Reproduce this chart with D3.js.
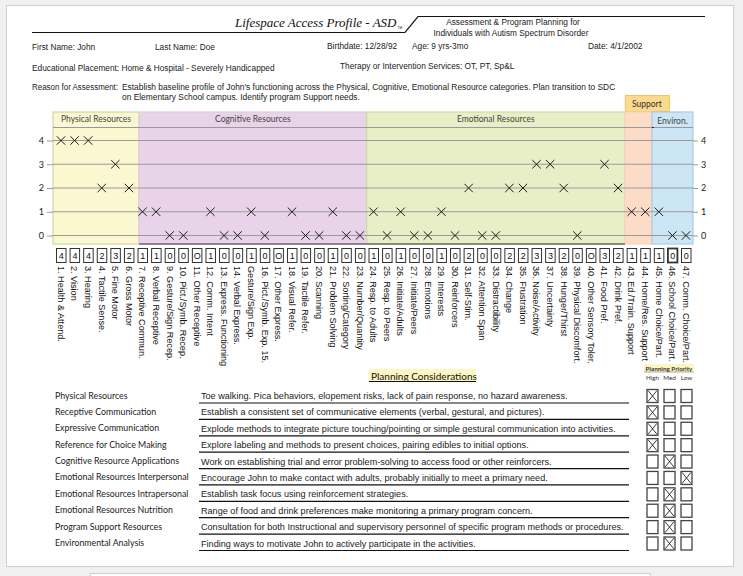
<!doctype html>
<html lang="en">
<head>
<meta charset="utf-8">
<title>Lifespace Access Profile - ASD</title>
<script src="https://cdn.jsdelivr.net/npm/d3@7"></script>
<style>
body { margin: 0; background: #f0f0f0; }
svg { display: block; }
.narrow { font-family: "Liberation Sans Narrow", "Liberation Sans", Arial, sans-serif; }
.arial { font-family: "Liberation Sans", Arial, sans-serif; }
.cal { font-family: Lato, "Open Sans", sans-serif; }
</style>
</head>
<body>
<div id="chart"></div>
<script>

var itemLabels = ["1. Health & Attend.", "2. Vision", "3. Hearing", "4. Tactile Sense.", "5. Fine Motor",
  "6. Gross Motor", "7. Receptive Commun.", "8. Verbal Receptive", "9. Gesture/Sign Recep.",
  "10. Pict./Symb. Recep.", "11. Other Receptive", "12. Comm. Intent", "13. Express. Functioning",
  "14. Verbal Express.", "Gesture/Sign Exp.", "16. Pict./Symb. Exp. 15.", "17. Other Express.",
  "18. Visual Refer.", "19. Tactile Refer.", "20. Scanning", "21. Problem Solving",
  "22. Sorting/Category", "23. Number/Quantity", "24. Resp. to Adults", "25. Resp. to Peers",
  "26. Initiate/Adults", "27. Initiate/Peers", "28. Emotions", "29. Interests", "30. Reinforcers",
  "31. Self-Stim.", "32. Attention Span", "33. Distractibility", "34. Change", "35. Frustration",
  "36. Noise/Activity", "37. Uncertainty", "38. Hunger/Thirst", "39. Physical Discomfort.",
  "40. Other Sensory Toler.", "41. Food Pref.", "42. Drink Pref.", "43. Ed./Train. Support",
  "44. Home/Res. Support", "45. Home Choice/Part.", "46. School Choice/Part.", "47. Comm. Choice/Part."];

// null = box shows "O" and nothing is plotted
var scores = [4, 4, 4, 2, 3, 2, 1, 1, 0, 0, null, 1, 0, 0, 1, 0, null, 1, 0, 0, 1, 0, 0,
  1, 0, 1, 0, 0, 1, 0, 2, 0, 0, 2, 2, 3, 3, 2, 0, null, 3, 2, 1, 1, 1, 0, 0];

var groupNames = ["Physical Resources", "Cognitive Resources", "Emotional Resources", "Support", "Environ."];
var groupFirst = [1, 7, 24, 43, 45];
var groupLast = [6, 23, 42, 44, 47];
var groupFill = ["#fbf8d1", "#e9d3e8", "#e8efc7", "#fcdcc7", "#cce6f5"];
var groupLine = ["#cad9a6", "#e2cbe0", "#cadcaa", "#f9d3b8", "#a9cbe6"];

var yTicks = [0, 1, 2, 3, 4];

var planAreas = ["Physical Resources", "Receptive Communication", "Expressive Communication",
  "Reference for Choice Making", "Cognitive Resource Applications", "Emotional Resources Interpersonal",
  "Emotional Resources Intrapersonal", "Emotional Resources Nutrition", "Program Support Resources",
  "Environmental Analysis"];
var planNotes = ["Toe walking. Pica behaviors, elopement risks, lack of pain response, no hazard awareness.",
  "Establish a consistent set of communicative elements (verbal, gestural, and pictures).",
  "Explode methods to integrate picture touching/pointing or simple gestural communication into activities.",
  "Explore labeling and methods to present choices, pairing edibles to initial options.",
  "Work on establishing trial and error problem-solving to access food or other reinforcers.",
  "Encourage John to make contact with adults, probably initially to meet a primary need.",
  "Establish task focus using reinforcement strategies.",
  "Range of food and drink preferences make monitoring a primary program concern.",
  "Consultation for both Instructional and supervisory personnel of specific program methods or procedures.",
  "Finding ways to motivate John to actively participate in the activities."];
var priorityLevels = ["High", "Med", "Low"];
var planPriority = ["High", "High", "High", "High", "Med", "Low", "Med", "Med", "Med", "Med"];

var width = 743;
var height = 576;

var svg = d3.select("#chart").append("svg")
    .attr("width", width)
    .attr("height", height);

// page
svg.append("rect").attr("x", 6.5).attr("y", 5.5).attr("width", 727).attr("height", 561)
  .attr("fill", "#fff").attr("stroke", "#cfcfcf");
svg.append("rect").attr("x", 90.5).attr("y", 573.5).attr("width", 560).attr("height", 10)
  .attr("fill", "#fff").attr("stroke", "#cfcfcf");

// ---- header ----
svg.append("path").attr("d", "M32,32.5H405L418,16.5H705").attr("fill", "none")
  .attr("stroke", "#111").attr("stroke-width", 1.2);
var title = svg.append("text").attr("x", 235).attr("y", 27)
  .attr("font-family", "'Liberation Serif', 'Times New Roman', serif").attr("font-style", "italic")
  .attr("font-size", 13).attr("fill", "#111").text("Lifespace Access Profile - ASD");
var titleEnd = 235 + title.node().getComputedTextLength();
svg.append("text").attr("x", titleEnd + 1).attr("y", 29).attr("font-family", "Liberation Sans")
  .attr("font-size", 3.2).attr("fill", "#111").text("TM");

// text, x, y, anchor, size
var info = [
  ["Assessment & Program Planning for", 513, 25, "middle", 8.3],
  ["Individuals with Autism Spectrum Disorder", 511, 36, "middle", 8.3],
  ["First Name:  John", 32, 50, "start", 8.3],
  ["Last Name:  Doe", 155, 50, "start", 8.3],
  ["Birthdate:  12/28/92", 327, 49, "start", 8.3],
  ["Age: 9 yrs-3mo", 412, 49, "start", 8.3],
  ["Date:  4/1/2002", 588, 49, "start", 8.3],
  ["Educational Placement: Home & Hospital - Severely Handicapped", 32, 71, "start", 8.3],
  ["Therapy or Intervention Services: OT, PT, Sp&L", 340, 69, "start", 8.3],
  ["Reason for Assessment:", 32, 90, "start", 8.3],
  ["Establish baseline profile of John's functioning across the Physical, Cognitive, Emotional Resource categories. Plan transition to SDC", 122, 90, "start", 8.4],
  ["on Elementary School campus. Identify program Support needs.", 122, 100, "start", 8.4]
];
svg.selectAll("text.info").data(info).enter().append("text")
  .attr("class", "info narrow")
  .attr("x", function(d) { return d[1]; })
  .attr("y", function(d) { return d[2]; })
  .attr("text-anchor", function(d) { return d[3]; })
  .attr("font-size", function(d) { return d[4]; })
  .attr("fill", "#222")
  .text(function(d) { return d[0]; });
// the reason label is squeezed on the form so it fits before the text
svg.selectAll("text.info").filter(function(d) { return d[0] == "Reason for Assessment:"; })
  .attr("textLength", 86).attr("lengthAdjust", "spacingAndGlyphs");

// ---- profile chart ----
var items = d3.range(1, 48);
var x = d3.scalePoint().domain(items).range([61, 686]);
var step = x.step();
var y = d3.scaleLinear().domain([0, 4]).range([235, 140]);

var plotTop = 112, headLine = 127.5, plotBottom = 244;

var groups = groupNames.map(function(n, i) {
  return { name: n, x0: x(groupFirst[i]) - step / 2, x1: x(groupLast[i]) + step / 2, fill: groupFill[i], line: groupLine[i] };
});
groups[0].x0 = x(1) - 8;
groups[1].x0 = groups[0].x1 = x(7) - 3.5;
groups[4].x1 = x(47) + 7;

// support tab sits above the others
var sup = groups[3];
svg.append("rect").attr("x", sup.x0 + 0.5).attr("y", 95.5).attr("width", 44).attr("height", 16)
  .attr("fill", "#fbd98d").attr("stroke", "#f6c15e");
svg.append("text").attr("class", "cal").attr("x", sup.x0 + 22).attr("y", 107)
  .attr("text-anchor", "middle").attr("font-size", 8.5).attr("fill", "#333").text("Support");

svg.selectAll("rect.group").data(groups).enter().append("rect")
  .attr("class", "group")
  .attr("x", function(d) { return d.x0; })
  .attr("y", plotTop)
  .attr("width", function(d) { return d.x1 - d.x0; })
  .attr("height", plotBottom - plotTop)
  .attr("fill", function(d) { return d.fill; })
  .attr("stroke", function(d) { return d.line; })
  .attr("stroke-width", 1.2);

svg.selectAll("text.ghead").data(groups.filter(function(d) { return d.name != "Support"; })).enter().append("text")
  .attr("class", "ghead cal")
  .attr("x", function(d) { return (d.x0 + d.x1) / 2; })
  .attr("y", function(d) { return d.name == "Environ." ? 124 : 122; })
  .attr("text-anchor", "middle")
  .attr("font-size", 8.5)
  .attr("fill", "#444")
  .text(function(d) { return d.name; });

// header divider and grid
svg.append("line").attr("x1", groups[0].x0).attr("x2", groups[4].x1)
  .attr("y1", headLine).attr("y2", headLine).attr("stroke", "#999");
svg.append("line").attr("x1", groups[4].x0).attr("x2", groups[4].x0 + 2)
  .attr("y1", headLine).attr("y2", headLine).attr("stroke", "#222");

svg.selectAll("line.grid").data(yTicks).enter().append("line")
  .attr("class", "grid")
  .attr("x1", groups[0].x0).attr("x2", groups[4].x1)
  .attr("y1", function(d) { return y(d) + 0.5; })
  .attr("y2", function(d) { return y(d) + 0.5; })
  .attr("stroke", "#9b9b9b");

svg.append("line").attr("x1", groups[1].x0).attr("x2", groups[2].x1)
  .attr("y1", plotBottom).attr("y2", plotBottom).attr("stroke", "#333").attr("stroke-width", 1.2);

var leftAxis = svg.append("g").attr("transform", "translate(" + groups[0].x0 + ",0.5)")
  .call(d3.axisLeft(y).tickValues(yTicks).tickSize(6).tickPadding(3).tickFormat(d3.format("d")));
var rightAxis = svg.append("g").attr("transform", "translate(" + groups[4].x1 + ",0.5)")
  .call(d3.axisRight(y).tickValues(yTicks).tickSize(5).tickPadding(3).tickFormat(d3.format("d")));
svg.selectAll(".domain").remove();
svg.selectAll(".tick line").attr("stroke", "#9b9b9b");
svg.selectAll(".tick text").attr("font-family", "Lato, sans-serif").attr("font-size", 9).attr("fill", "#222");

// X marks
var plotted = items.filter(function(i) { return scores[i - 1] != null; });
svg.selectAll("path.mark").data(plotted).enter().append("path")
  .attr("class", "mark")
  .attr("transform", function(i) { return "translate(" + x(i) + "," + (y(scores[i - 1]) + 0.5) + ")"; })
  .attr("d", "M-4.2,-4.2L4.2,4.2M-4.2,4.2L4.2,-4.2")
  .attr("stroke", "#1a1a1a")
  .attr("stroke-width", 1);

// score boxes
var boxes = svg.selectAll("g.box").data(items).enter().append("g")
  .attr("class", "box")
  .attr("transform", function(i) { return "translate(" + x(i) + ",248)"; });
boxes.append("rect")
  .attr("x", -4.5).attr("y", 0.5).attr("width", 9.5).attr("height", 14)
  .attr("fill", "#fff")
  .attr("stroke", "#333")
  .attr("stroke-width", function(i) { return i == 46 ? 1.8 : 1; });
boxes.append("text")
  .attr("class", "arial")
  .attr("x", 0.3).attr("y", 11)
  .attr("text-anchor", "middle")
  .attr("font-size", 9)
  .attr("fill", "#111")
  .text(function(i) { return scores[i - 1] == null ? "O" : scores[i - 1]; });

// rotated item names
svg.selectAll("text.item").data(items).enter().append("text")
  .attr("class", "item arial")
  .attr("transform", function(i) { return "translate(" + x(i) + ",266) rotate(90)"; })
  .attr("dy", "0.35em")
  .attr("font-size", 9.1)
  .attr("fill", "#111")
  .text(function(i) { return itemLabels[i - 1]; });

// ---- planning considerations ----
svg.append("rect").attr("x", 369).attr("y", 369).attr("width", 107).attr("height", 13).attr("fill", "#fdf6c3");
svg.append("text").attr("class", "cal").attr("x", 371).attr("y", 379.5)
  .attr("font-size", 10).attr("fill", "#111").text("Planning Considerations");
svg.append("line").attr("x1", 369).attr("x2", 476).attr("y1", 381.5).attr("y2", 381.5)
  .attr("stroke", "#111");

svg.append("rect").attr("x", 644).attr("y", 364).attr("width", 50).attr("height", 8).attr("fill", "#fdf6c3");
svg.append("text").attr("class", "cal").attr("x", 669).attr("y", 370.5).attr("text-anchor", "middle")
  .attr("font-size", 6.3).attr("font-weight", "bold").attr("fill", "#333").text("Planning Priority");
svg.append("line").attr("x1", 644).attr("x2", 694).attr("y1", 372).attr("y2", 372).attr("stroke", "#555").attr("stroke-width", 0.5);

var colX = d3.scalePoint().domain(priorityLevels).range([652.5, 686.5]);
svg.selectAll("text.plev").data(priorityLevels).enter().append("text")
  .attr("class", "plev cal")
  .attr("x", function(d) { return colX(d); })
  .attr("y", 379.5)
  .attr("text-anchor", "middle")
  .attr("font-size", 6.3)
  .attr("fill", "#333")
  .text(function(d) { return d; });

var rowY = d3.scaleLinear().domain([0, 9]).range([395.5, 543]);

var rows = svg.selectAll("g.prow").data(planAreas).enter().append("g")
  .attr("class", "prow")
  .attr("transform", function(d, i) { return "translate(0," + rowY(i) + ")"; });

rows.append("text").attr("class", "cal").attr("x", 55).attr("y", 3)
  .attr("font-size", 8.8).attr("fill", "#222").text(function(d) { return d; });
rows.append("text").attr("class", "arial").attr("x", 201).attr("y", 3.5)
  .attr("font-size", 9.1).attr("fill", "#222").text(function(d, i) { return planNotes[i]; });
rows.append("line").attr("x1", 199).attr("x2", 629).attr("y1", 7.5).attr("y2", 7.5)
  .attr("stroke", "#111").attr("stroke-width", 1.2);

priorityLevels.forEach(function(lev) {
  rows.append("rect")
    .attr("x", colX(lev) - 5.5).attr("y", -6).attr("width", 11).attr("height", 13)
    .attr("fill", "#fff").attr("stroke", "#444").attr("stroke-width", 1.3);
  rows.filter(function(d, i) { return planPriority[i] == lev; }).append("path")
    .attr("d", "M" + (colX(lev) - 4.5) + ",-5L" + (colX(lev) + 4.5) + ",6M" + (colX(lev) - 4.5) + ",6L" + (colX(lev) + 4.5) + ",-5")
    .attr("stroke", "#222").attr("stroke-width", 0.9).attr("fill", "none");
});

</script>
</body>
</html>
